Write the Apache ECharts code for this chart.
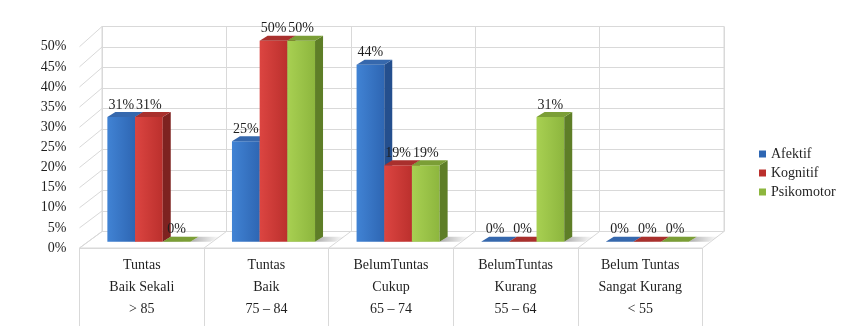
<!DOCTYPE html>
<html>
<head>
<meta charset="utf-8">
<script src="https://cdn.jsdelivr.net/npm/echarts@6/dist/echarts.min.js"></script>
<style>
  html, body { margin: 0; padding: 0; background: #ffffff; }
  #chart { width: 845px; height: 326px; }
</style>
</head>
<body>
<div id="chart"></div>
<script>
// Category labels (three lines: status, grade, score range)
const categories = [
  'Tuntas\nBaik Sekali\n> 85',
  'Tuntas\nBaik\n75 – 84',
  'BelumTuntas\nCukup\n65 – 74',
  'BelumTuntas\nKurang\n55 – 64',
  'Belum Tuntas\nSangat Kurang\n< 55'
];
// Percentages per domain
const afektif = [31, 25, 44, 0, 0];
const kognitif = [31, 50, 19, 0, 0];
const psikomotor = [0, 50, 19, 31, 0];
const seriesNames = ['Afektif', 'Kognitif', 'Psikomotor'];
// Value axis range and step (percent)
const axisMax = 50;
const axisStep = 5;

const FONT = '"Liberation Serif", "Times New Roman", serif';
const TEXT = '#1f1f1f';
const GRID = '#d9d9d9';

// face colours: [front-left, front-right, side, top]
const palette = [
  ['#4183d4', '#2e66b3', '#244f8e', '#3668ad'],
  ['#dc4541', '#bb302d', '#7e2220', '#a9302d'],
  ['#a8d052', '#8db63e', '#5e7e27', '#7b9e36']
];

const seriesData = [afektif, kognitif, psikomotor];
const gapRatio = 1 / 3;
const depthX = 8, depthY = -5;

function renderBar(params, api) {
  const si = params.seriesIndex;
  const cat = api.value(0);
  const v = api.value(1);
  const base = api.coord([cat, 0]);
  const top = api.coord([cat, v]);
  const band = api.size([1, 0])[0];
  const bw = band * (1 - gapRatio) / 3;
  const x0 = base[0] - 1.5 * bw + si * bw;
  const x1 = x0 + bw;
  const yb = base[1], yt = top[1];
  const c = palette[si];
  const children = [];
  // soft floor shadow to the right of the bar
  children.push({
    type: 'polygon',
    shape: { points: [[x1, yb], [x1 + depthX, yb + depthY], [x1 + depthX + 22, yb + depthY], [x1 + 20, yb]] },
    style: {
      fill: new echarts.graphic.LinearGradient(0, 0, 1, 0, [
        { offset: 0, color: 'rgba(0,0,0,0.32)' },
        { offset: 1, color: 'rgba(0,0,0,0)' }
      ])
    },
    silent: true
  });
  if (yb - yt > 0.5) {
    children.push({
      type: 'rect',
      shape: { x: x0, y: yt, width: bw, height: yb - yt },
      style: {
        fill: new echarts.graphic.LinearGradient(0, 0, 1, 0, [
          { offset: 0, color: c[0] },
          { offset: 1, color: c[1] }
        ])
      }
    });
    children.push({
      type: 'polygon',
      shape: { points: [[x1, yt], [x1 + depthX, yt + depthY], [x1 + depthX, yb + depthY], [x1, yb]] },
      style: { fill: c[2] }
    });
  }
  children.push({
    type: 'polygon',
    shape: { points: [[x0, yt], [x1, yt], [x1 + depthX, yt + depthY], [x0 + depthX, yt + depthY]] },
    style: { fill: c[3] }
  });
  children.push({
    type: 'text',
    style: {
      x: x0 + bw / 2,
      y: yt - 12,
      text: v + '%',
      align: 'center',
      verticalAlign: 'middle',
      fontFamily: FONT,
      fontSize: 14,
      fill: TEXT
    },
    z2: 10
  });
  return { type: 'group', children: children };
}

const option = {
  animation: false,
  backgroundColor: '#ffffff',
  grid: [
    // back wall
    { left: 102, width: 622, top: 26.5, height: 205, show: true, borderColor: GRID, borderWidth: 1, backgroundColor: 'transparent' },
    // bars
    { left: 86.6, width: 623, top: 40.7, height: 201 },
    // front edge: value labels and category box
    { left: 79.5, width: 623, top: 46.7, height: 201.3 }
  ],
  xAxis: [
    { gridIndex: 0, type: 'category', data: categories,
      axisLabel: { show: false }, axisTick: { show: false }, axisLine: { show: false },
      splitLine: { show: true, lineStyle: { color: GRID, width: 1 } } },
    { gridIndex: 1, type: 'category', data: categories, show: false },
    { gridIndex: 2, type: 'category', data: categories,
      axisLine: { show: true, lineStyle: { color: GRID, width: 1 } },
      axisTick: { show: true, length: 80, lineStyle: { color: GRID, width: 1 } },
      axisLabel: { fontFamily: FONT, fontSize: 14, lineHeight: 22, color: TEXT, margin: 6, interval: 0 } }
  ],
  yAxis: [
    { gridIndex: 0, type: 'value', min: 0, max: axisMax, interval: axisStep,
      axisLabel: { show: false }, axisLine: { show: false }, axisTick: { show: false },
      splitLine: { show: true, lineStyle: { color: GRID, width: 1 } } },
    { gridIndex: 1, type: 'value', min: 0, max: axisMax, show: false, splitLine: { show: false } },
    { gridIndex: 2, type: 'value', min: 0, max: axisMax, interval: axisStep,
      axisLine: { show: false }, axisTick: { show: false }, splitLine: { show: false },
      axisLabel: { fontFamily: FONT, fontSize: 14, color: TEXT, margin: 13, formatter: '{value}%' } }
  ],
  legend: {
    orient: 'vertical',
    left: 754,
    top: 142,
    itemWidth: 7,
    itemHeight: 7,
    itemGap: 5,
    icon: 'rect',
    textStyle: { fontFamily: FONT, fontSize: 14, color: TEXT, lineHeight: 14 },
    data: seriesNames
  },
  series: seriesData.map(function (vals, si) {
    return {
      name: seriesNames[si],
      type: 'custom',
      xAxisIndex: 1,
      yAxisIndex: 1,
      z: 5,
      itemStyle: { color: palette[si][1] },
      renderItem: renderBar,
      encode: { x: 0, y: 1 },
      data: vals.map(function (v, i) { return [i, v]; })
    };
  })
};

const chart = echarts.init(document.getElementById('chart'), null, { renderer: 'canvas' });
chart.setOption(option);

// Floor and side wall, built from the back-wall and front-edge axes
(function () {
  const yBack = function (v) { return chart.convertToPixel({ yAxisIndex: 0 }, v); };
  const yFront = function (v) { return chart.convertToPixel({ yAxisIndex: 2 }, v); };
  const xb0 = chart.convertToPixel({ xAxisIndex: 0 }, 0);
  const xb1 = chart.convertToPixel({ xAxisIndex: 0 }, 1);
  const xf0 = chart.convertToPixel({ xAxisIndex: 2 }, 0);
  const xf1 = chart.convertToPixel({ xAxisIndex: 2 }, 1);
  const bandB = xb1 - xb0, bandF = xf1 - xf0;
  const backLeft = xb0 - bandB / 2, frontLeft = xf0 - bandF / 2;
  const n = categories.length;
  const yb0 = yBack(0), yf0 = yFront(0);
  const els = [];
  els.push({
    type: 'polygon', z: 1, silent: true,
    shape: { points: [[backLeft, yb0], [backLeft + n * bandB, yb0], [frontLeft + n * bandF, yf0], [frontLeft, yf0]] },
    style: { fill: '#ffffff', stroke: GRID, lineWidth: 1 }
  });
  for (let k = 1; k < n; k++) {
    els.push({
      type: 'line', z: 1, silent: true,
      shape: { x1: backLeft + k * bandB, y1: yb0, x2: frontLeft + k * bandF, y2: yf0 },
      style: { stroke: GRID, lineWidth: 1 }
    });
  }
  for (let v = 0; v <= axisMax; v += axisStep) {
    els.push({
      type: 'line', z: 1, silent: true,
      shape: { x1: backLeft, y1: yBack(v), x2: frontLeft, y2: yFront(v) },
      style: { stroke: GRID, lineWidth: 1 }
    });
  }
  chart.setOption({ graphic: els });
})();
</script>
</body>
</html>
